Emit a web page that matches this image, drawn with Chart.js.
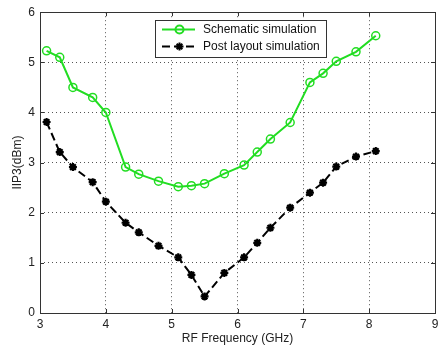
<!DOCTYPE html>
<html><head><meta charset="utf-8">
<script src="https://cdn.jsdelivr.net/npm/chart.js@4"></script>
<style>html,body{margin:0;padding:0;background:#fff}#w{width:443px;height:351px}</style>
</head><body><div id="w"><canvas id="c" width="443" height="351"></canvas></div>
<script>
const freqSchematic = [3.1,3.3,3.5,3.8,4.0,4.3,4.5,4.8,5.1,5.3,5.5,5.8,6.1,6.3,6.5,6.8,7.1,7.3,7.5,7.8,8.1];
const iip3Schematic = [5.23,5.1,4.5,4.3,4.0,2.91,2.77,2.63,2.52,2.54,2.58,2.78,2.95,3.21,3.47,3.8,4.6,4.78,5.02,5.21,5.53];
const freqPost = [3.1,3.3,3.5,3.8,4.0,4.3,4.5,4.8,5.1,5.3,5.5,5.8,6.1,6.3,6.5,6.8,7.1,7.3,7.5,7.8,8.1];
const iip3Post = [3.81,3.21,2.91,2.61,2.22,1.8,1.61,1.34,1.11,0.76,0.33,0.8,1.11,1.4,1.7,2.1,2.4,2.6,2.92,3.12,3.23];
const seriesLabels = ["Schematic simulation","Post layout simulation"];
const xTicks = [3,4,5,6,7,8,9];
const yTicks = [0,1,2,3,4,5,6];
const xTitle = "RF Frequency (GHz)";
const yTitle = "IIP3(dBm)";

const GREEN = '#22dd22';
const FONT = "'Liberation Sans', Arial, sans-serif";

const boxPlugin = {
  id: 'box',
  afterDraw(chart) {
    const {ctx, chartArea: a, scales} = chart;
    ctx.save();
    ctx.strokeStyle = '#333';
    ctx.lineWidth = 1;
    ctx.strokeRect(Math.round(a.left)+0.5, Math.round(a.top)+0.5, Math.round(a.right-a.left), Math.round(a.bottom-a.top));
    ctx.beginPath();
    xTicks.forEach(v => {
      const x = Math.round(scales.x.getPixelForValue(v))+0.5;
      ctx.moveTo(x, a.bottom); ctx.lineTo(x, a.bottom-4);
      ctx.moveTo(x, a.top); ctx.lineTo(x, a.top+4);
    });
    yTicks.forEach(v => {
      const y = Math.round(scales.y.getPixelForValue(v))+0.5;
      ctx.moveTo(a.left, y); ctx.lineTo(a.left+4, y);
      ctx.moveTo(a.right, y); ctx.lineTo(a.right-4, y);
    });
    ctx.stroke();
    const lx = 155, ly = 20, lw = 171, lh = 37;
    ctx.fillStyle = '#fff';
    ctx.fillRect(lx, ly, lw, lh);
    ctx.strokeStyle = '#333';
    ctx.strokeRect(lx+0.5, ly+0.5, lw, lh);
    const rows = [29.5, 46.5];
    chart.data.datasets.forEach((ds, i) => {
      const y = rows[i];
      ctx.save();
      ctx.strokeStyle = ds.borderColor;
      ctx.fillStyle = ds.pointBackgroundColor;
      ctx.lineWidth = ds.borderWidth;
      ctx.setLineDash(ds.borderDash || []);
      ctx.beginPath(); ctx.moveTo(162, y); ctx.lineTo(195, y); ctx.stroke();
      ctx.setLineDash([]);
      ctx.strokeStyle = ds.pointBorderColor;
      Chart.helpers.drawPoint(ctx, {pointStyle: ds.pointStyle, radius: ds.pointRadius, borderWidth: ds.pointBorderWidth, rotation: 0}, 179.5, y);
      ctx.restore();
      ctx.fillStyle = '#111';
      ctx.font = '12px ' + FONT;
      ctx.textBaseline = 'middle';
      ctx.textAlign = 'left';
      ctx.fillText(ds.label, 203, y);
    });
    ctx.restore();
  }
};

new Chart(document.getElementById('c'), {
  type: 'line',
  data: {
    datasets: [
      {
        label: seriesLabels[0],
        data: freqSchematic.map((x, i) => ({x, y: iip3Schematic[i]})),
        borderColor: GREEN, backgroundColor: 'rgba(0,0,0,0)',
        borderWidth: 2, pointStyle: 'circle', pointRadius: 4,
        pointBorderColor: GREEN, pointBackgroundColor: 'rgba(255,255,255,0)', pointBorderWidth: 1.5,
        tension: 0
      },
      {
        label: seriesLabels[1],
        data: freqPost.map((x, i) => ({x, y: iip3Post[i]})),
        borderColor: '#000', backgroundColor: '#000',
        borderWidth: 2, borderDash: [8, 4], pointStyle: 'star', pointRadius: 4,
        pointBorderColor: '#000', pointBackgroundColor: '#000', pointBorderWidth: 2.2,
        tension: 0
      }
    ]
  },
  options: {
    responsive: false, animation: false, devicePixelRatio: 1,
    layout: {padding: {top: 12, right: 8, left: 10, bottom: 5}},
    plugins: {legend: {display: false}, tooltip: {enabled: false}},
    scales: {
      x: {
        type: 'linear', min: 3, max: 9,
        afterBuildTicks(s) { s.ticks = xTicks.map(v => ({value: v})); },
        afterFit(s) { s.height = 33; },
        grid: {color: '#555', lineWidth: 1, drawTicks: false},
        border: {display: false, dash: [1, 3]},
        ticks: {color: '#222', font: {family: FONT, size: 12}, padding: 4, maxRotation: 0},
        title: {display: true, text: xTitle, color: '#222', font: {family: FONT, size: 12}, padding: {top: 0, bottom: 0}}
      },
      y: {
        type: 'linear', min: 0, max: 6,
        afterBuildTicks(s) { s.ticks = yTicks.map(v => ({value: v})); },
        afterFit(s) { s.width = 30; },
        grid: {color: '#555', lineWidth: 1, drawTicks: false},
        border: {display: false, dash: [1, 3]},
        ticks: {color: '#222', font: {family: FONT, size: 12}, padding: 5},
        title: {display: true, text: yTitle, color: '#222', font: {family: FONT, size: 12}, padding: {top: 0, bottom: 0}}
      }
    }
  },
  plugins: [boxPlugin]
});
</script>
</body></html>
